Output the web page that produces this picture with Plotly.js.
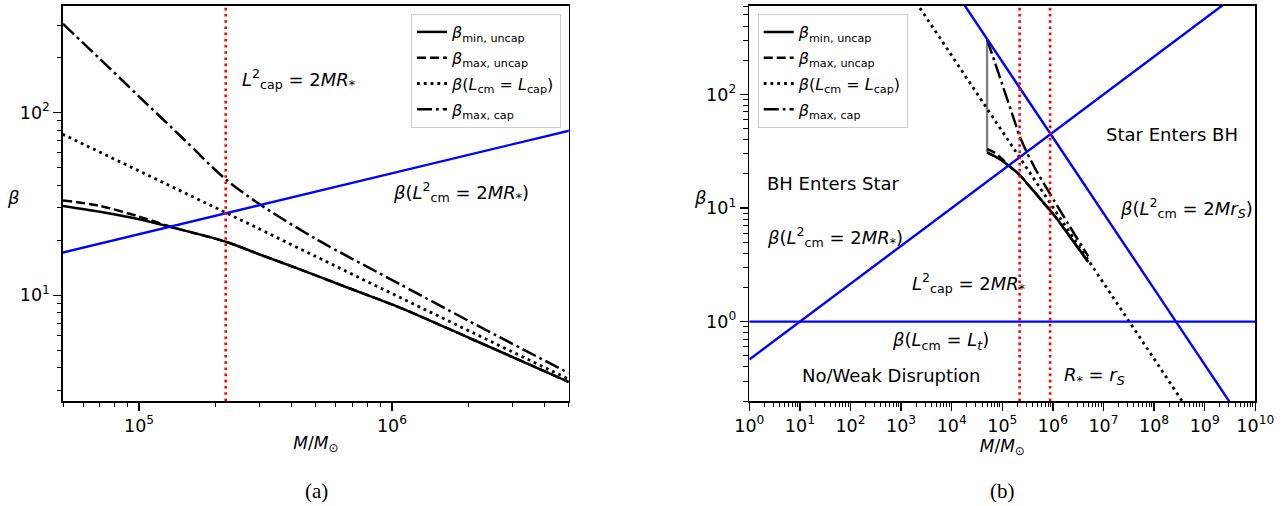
<!DOCTYPE html>
<html><head><meta charset="utf-8">
<script src="https://cdn.plot.ly/plotly-3.0.1.min.js"></script>
<style>body{margin:0;background:#fff}#chart{width:1285px;height:506px}</style>
</head><body><div id="chart"></div>
<script>
// ---------- data ----------
const massUncap    = [5e4, 7e4, 1e5, 1.33e5, 2.2e5, 3e5, 4.35e5, 6.5e5, 1.08e6, 2.13e6, 5e6];
const betaMinUncap = [30.8, 28.6, 26.0, 23.6, 19.6, 16.7, 13.8, 11.15, 8.53, 5.65, 3.35];
const betaMaxUncap = [33.0, 30.8, 26.9, 23.7, 19.6, 16.7, 13.8, 11.15, 8.53, 5.65, 3.35];
const massCap      = [5e4, 7e4, 1e5, 1.5e5, 2.2e5, 3e5, 5e5, 1.08e6, 2e6, 5e6];
const betaMaxCap   = [305, 196, 122, 71.5, 43, 31.4, 20.3, 11.45, 7.26, 3.75];
const massLcap     = [1e3, 2e3, 5e4, 2.2e5, 1e6, 5e6, 1e7, 1e8, 1e9];
const betaLcap     = [1020, 643, 75.2, 28.3, 10.2, 3.5, 2.2, 0.47, 0.10];
const massStar     = [1, 5e4, 5e6, 1e10];          // beta(L_cm^2 = 2MR*)
const betaStar     = [0.464, 17.1, 79.4, 1000];
const massSchw     = [1e4, 8.8e5, 2.7e8, 1e10];    // beta(L_cm^2 = 2Mr_S)
const betaSchw     = [900, 45, 1, 0.09];
const massTidal    = [1, 1e10];                    // beta(L_cm = L_t)
const betaTidal    = [1, 1];
const massCapStar  = [2.2e5];                      // L_cap^2 = 2MR*
const massRsLine   = [8.8e5];                      // R* = r_S
const xExpA = [5, 6];
const yExpA = [1, 2];
const xExpB = [0,1,2,3,4,5,6,7,8,9,10];
const yExpB = [0, 1, 2];

// ---------- helpers ----------
const W = 1285, H = 506;
const FONT = 'DejaVu Sans';
const pw = v => v / W, ph = v => 1 - v / H;
const pow10 = e => Math.pow(10, e);
const lab = e => '10<sup>' + e + '</sup>';
function minorVals(lo, hi) {
  const out = [];
  for (let d = lo; d < hi; d++) for (let k = 2; k <= 9; k++) out.push(k * Math.pow(10, d));
  return out;
}
const axisBase = {
  type: 'log', showline: true, linecolor: 'black', linewidth: 1.6, mirror: true,
  ticks: 'outside', ticklen: 8, tickwidth: 1.3, tickcolor: 'black',
  showgrid: false, zeroline: false, tickmode: 'array',
  tickfont: {family: FONT, size: 17.5, color: 'black'}
};
function axis(extra, minorLo, minorHi) {
  return Object.assign({}, axisBase, {
    minor: {ticks: 'outside', ticklen: 4.5, tickwidth: 1, tickcolor: 'black',
            tickmode: 'array', tickvals: minorVals(minorLo, minorHi), showgrid: false}
  }, extra);
}

const LW = 2.5;
const styles = {
  solid:   {color: 'black', width: LW, dash: 'solid', shape: 'spline', smoothing: 0.8},
  dashed:  {color: 'black', width: LW, dash: '9px,4px', shape: 'spline', smoothing: 0.8},
  dotted:  {color: 'black', width: LW + 0.3, dash: '2.8px,4px'},
  dashdot: {color: 'black', width: LW, dash: '15px,4px,2.8px,4px', shape: 'spline', smoothing: 0.8}
};
const names = {
  minU: '<i>β</i><sub>min, uncap</sub>',
  maxU: '<i>β</i><sub>max, uncap</sub>',
  lcap: '<i>β</i>(<i>L</i><sub>cm</sub> = <i>L</i><sub>cap</sub>)',
  maxC: '<i>β</i><sub>max, cap</sub>'
};

function blackTraces(xa, ya, leg) {
  return [
    {x: massUncap, y: betaMinUncap, name: names.minU, line: styles.solid},
    {x: massUncap, y: betaMaxUncap, name: names.maxU, line: styles.dashed},
    {x: massLcap,  y: betaLcap,     name: names.lcap, line: styles.dotted},
    {x: massCap,   y: betaMaxCap,   name: names.maxC, line: styles.dashdot}
  ].map((t, i) => Object.assign(t, {type: 'scatter', mode: 'lines', xaxis: xa, yaxis: ya,
      legend: leg, legendgroup: leg + i, showlegend: true}));
}
const blue = {color: '#0000ff', width: 2.4};
function noLeg(t) { return Object.assign({type: 'scatter', mode: 'lines', showlegend: false, hoverinfo: 'skip'}, t); }

const data = [
  ...blackTraces('x', 'y', 'legend'),
  noLeg({x: massStar, y: betaStar, xaxis: 'x', yaxis: 'y', line: blue}),
  noLeg({x: [massUncap[0], massCap[0]], y: [betaMinUncap[0], betaMaxCap[0]], xaxis: 'x2', yaxis: 'y2',
         line: {color: '#808080', width: 2.4}}),
  ...blackTraces('x2', 'y2', 'legend2'),
  noLeg({x: massStar, y: betaStar, xaxis: 'x2', yaxis: 'y2', line: blue}),
  noLeg({x: massSchw, y: betaSchw, xaxis: 'x2', yaxis: 'y2', line: blue}),
  noLeg({x: massTidal, y: betaTidal, xaxis: 'x2', yaxis: 'y2', line: blue})
];

const redDot = {color: '#ff0000', width: 2.6, dash: '2.6px,3.6px'};
const shapes = [
  ...massCapStar.map(m => ({type: 'line', xref: 'x', yref: 'y domain', x0: m, x1: m, y0: 0, y1: 1, line: redDot})),
  ...massCapStar.concat(massRsLine).map(m => ({type: 'line', xref: 'x2', yref: 'y2 domain', x0: m, x1: m, y0: 0, y1: 1, line: redDot}))
];

function ann(text, px, py, xanchor, size, fam) {
  return {text: text, xref: 'paper', yref: 'paper', x: pw(px), y: ph(py), xanchor: xanchor || 'left',
          yanchor: 'middle', showarrow: false, font: {family: fam || FONT, size: size || 18, color: 'black'}};
}
const annotations = [
  ann('<i>L</i><sup>2</sup><sub>cap</sub> = 2<i>MR</i><sub>*</sub>', 240, 79),
  ann('<i>β</i>(<i>L</i><sup>2</sup><sub>cm</sub> = 2<i>MR</i><sub>*</sub>)', 391, 192),
  ann('<i>β</i>', 13, 197, 'center'),
  ann('<i>β</i>', 701, 197, 'center'),
  ann('BH Enters Star', 765, 183),
  ann('<i>β</i>(<i>L</i><sup>2</sup><sub>cm</sub> = 2<i>MR</i><sub>*</sub>)', 765, 237),
  ann('<i>L</i><sup>2</sup><sub>cap</sub> = 2<i>MR</i><sub>*</sub>', 910, 283),
  ann('<i>β</i>(<i>L</i><sub>cm</sub> = <i>L</i><sub><i>t</i></sub>)', 890, 341),
  ann('No/Weak Disruption', 800, 375),
  ann('<i>R</i><sub>*</sub> = <i>r</i><sub><i>S</i></sub>', 1062, 376),
  ann('Star Enters BH', 1104, 134),
  ann('<i>β</i>(<i>L</i><sup>2</sup><sub>cm</sub> = 2<i>Mr</i><sub><i>S</i></sub>)', 1118, 208),
  ann('(a)', 316, 491, 'center', 21, 'Liberation Serif'),
  ann('(b)', 1002, 491, 'center', 21, 'Liberation Serif')
];

const xTitle = {text: '<i>M</i>/<i>M</i><sub>⊙</sub>', font: {family: FONT, size: 17, color: 'black'}, standoff: 2};
const legendBase = {bgcolor: 'rgba(255,255,255,0.8)', bordercolor: '#cccccc', borderwidth: 1,
                    font: {family: FONT, size: 16, color: 'black'}, yanchor: 'top', tracegroupgap: 2};

const layout = {
  width: W, height: H, margin: {l: 0, r: 0, t: 0, b: 0},
  paper_bgcolor: 'white', plot_bgcolor: 'white', showlegend: true,
  font: {family: FONT, size: 16, color: 'black'},
  xaxis: axis({domain: [pw(63), pw(568.7)], range: [Math.log10(5e4), Math.log10(5e6)], anchor: 'y',
               tickvals: xExpA.map(pow10), ticktext: xExpA.map(lab), title: xTitle}, 4, 7),
  yaxis: axis({domain: [1 - 401/H, 1 - 6/H], range: [0.421, 2.582], anchor: 'x',
               tickvals: yExpA.map(pow10), ticktext: yExpA.map(lab)}, 0, 3),
  xaxis2: axis({domain: [pw(749.3), pw(1255.3)], range: [0, 10], anchor: 'y2',
                tickvals: xExpB.map(pow10), ticktext: xExpB.map(lab), title: xTitle}, 0, 10),
  yaxis2: axis({domain: [1 - 401/H, 1 - 6/H], range: [Math.log10(0.2), Math.log10(600)], anchor: 'x2',
                tickvals: yExpB.map(pow10), ticktext: yExpB.map(lab)}, -1, 3),
  legend: Object.assign({}, legendBase, {x: pw(561), xanchor: 'right', y: ph(14)}),
  legend2: Object.assign({}, legendBase, {x: pw(757.7), xanchor: 'left', y: ph(14)}),
  shapes: shapes,
  annotations: annotations
};

Plotly.newPlot('chart', data, layout, {staticPlot: true, displayModeBar: false});
</script></body></html>
